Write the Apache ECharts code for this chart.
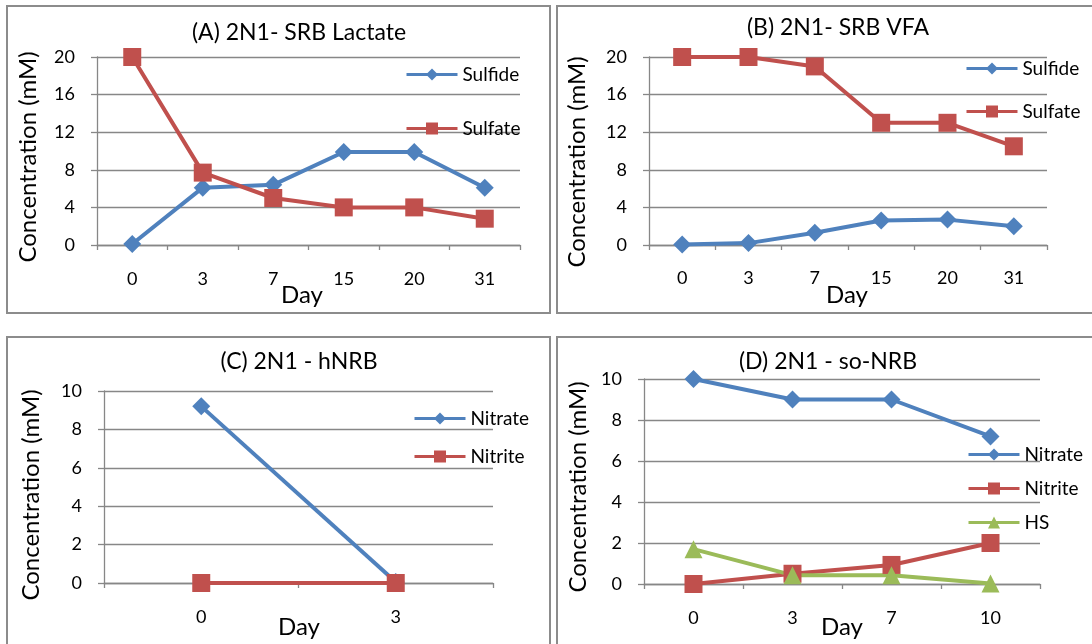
<!DOCTYPE html>
<html>
<head>
<meta charset="utf-8">
<script src="https://cdn.jsdelivr.net/npm/echarts@6/dist/echarts.min.js"></script>
<style>
  html, body { margin: 0; padding: 0; background: #fff; }
  #main { width: 1092px; height: 644px; }
</style>
</head>
<body>
<div id="main"></div>
<script>
// data
var daysA = ['0', '3', '7', '15', '20', '31'];
var sulfideA = [0.1, 6.1, 6.4, 9.9, 9.9, 6.1];
var sulfateA = [20, 7.7, 5.0, 4.0, 4.0, 2.8];

var daysB = ['0', '3', '7', '15', '20', '31'];
var sulfideB = [0.05, 0.2, 1.3, 2.6, 2.7, 2.0];
var sulfateB = [20, 20, 19, 13, 13, 10.5];

var daysC = ['0', '3'];
var nitrateC = [9.2, 0.05];
var nitriteC = [0, 0];

var daysD = ['0', '3', '7', '10'];
var nitrateD = [10, 9.0, 9.0, 7.2];
var nitriteD = [0, 0.5, 0.93, 2.0];
var hsD = [1.7, 0.43, 0.43, 0.02];

var titles = ['(A) 2N1- SRB Lactate', '(B) 2N1- SRB VFA', '(C) 2N1 - hNRB', '(D) 2N1 - so-NRB'];

var BLUE = '#4F81BD', RED = '#C0504D', GREEN = '#9BBB59';
var GRIDC = '#878787';
var FONT = 'Lato';

var myChart = echarts.init(document.getElementById('main'));

var grids = [
  {left: 97, top: 57, width: 423, height: 188},
  {left: 649, top: 57, width: 398, height: 188},
  {left: 104, top: 391, width: 389, height: 192},
  {left: 644, top: 379, width: 396, height: 205}
];

function xAx(i, cats, margin) {
  return {
    type: 'category', gridIndex: i, data: cats, boundaryGap: true,
    axisLine: {lineStyle: {color: GRIDC, width: 1.3}},
    axisTick: {show: true, length: 5, lineStyle: {color: GRIDC, width: 1.3}},
    axisLabel: {color: '#000', fontSize: 18, fontFamily: FONT, margin: margin}
  };
}
function yAx(i, max, step) {
  return {
    type: 'value', gridIndex: i, min: 0, max: max, interval: step,
    axisLine: {show: true, lineStyle: {color: GRIDC, width: 1.3}},
    axisTick: {show: true, length: 6, lineStyle: {color: GRIDC, width: 1.3}},
    splitLine: {lineStyle: {color: GRIDC, width: 1.3}},
    axisLabel: {color: '#000', fontSize: 18, fontFamily: FONT, margin: 22}
  };
}
function ser(name, data, i, color, sym) {
  return {
    name: name, type: 'line', xAxisIndex: i, yAxisIndex: i, data: data,
    symbol: sym, symbolSize: 18, showAllSymbol: true,
    lineStyle: {color: color, width: 4},
    itemStyle: {color: color},
    animation: false
  };
}
function leg(names, left, top, gap) {
  return {
    data: names, orient: 'vertical', left: left, top: top, itemGap: gap,
    padding: 0, itemWidth: 51, itemHeight: 15,
    lineStyle: {width: 3},
    textStyle: {color: '#000', fontSize: 19, fontFamily: FONT}
  };
}
function txt(s, x, y, size, rot) {
  return {
    type: 'text', x: x, y: y, rotation: rot || 0,
    style: {text: s, font: size + 'px ' + FONT, fill: '#000', align: 'center', verticalAlign: 'middle'}
  };
}
function box(x, y, w, h) {
  return {type: 'rect', shape: {x: x, y: y, width: w, height: h},
    style: {fill: 'none', stroke: '#8c8c8c', lineWidth: 2}};
}

myChart.setOption({
  backgroundColor: '#fff',
  animation: false,
  grid: grids,
  xAxis: [xAx(0, daysA, 25), xAx(1, daysB, 24), xAx(2, daysC, 25), xAx(3, daysD, 25)],
  yAxis: [yAx(0, 20, 4), yAx(1, 20, 4), yAx(2, 10, 2), yAx(3, 10, 2)],
  legend: [
    leg(['Sulfide', 'Sulfate'], 405, 65, 35),
    leg(['Sulfide', 'Sulfate'], 965, 59, 24),
    leg(['Nitrate', 'Nitrite'], 413, 409, 19),
    leg(['Nitrate', 'Nitrite', 'HS'], 967, 445, 15)
  ],
  series: [
    ser('Sulfide', sulfideA, 0, BLUE, 'diamond'),
    ser('Sulfate', sulfateA, 0, RED, 'rect'),
    ser('Sulfide', sulfideB, 1, BLUE, 'diamond'),
    ser('Sulfate', sulfateB, 1, RED, 'rect'),
    ser('Nitrate', nitrateC, 2, BLUE, 'diamond'),
    ser('Nitrite', nitriteC, 2, RED, 'rect'),
    ser('Nitrate', nitrateD, 3, BLUE, 'diamond'),
    ser('Nitrite', nitriteD, 3, RED, 'rect'),
    ser('HS', hsD, 3, GREEN, 'triangle')
  ],
  graphic: [
    box(7, 6, 543, 307), box(557, 6, 545, 307),
    box(7, 337, 543, 320), box(557, 337, 545, 320),
    txt(titles[0], 299, 33, 23), txt(titles[1], 838, 28, 23),
    txt(titles[2], 299, 362, 23), txt(titles[3], 828, 362, 23),
    txt('Concentration (mM)', 28, 157, 24, Math.PI / 2),
    txt('Concentration (mM)', 577, 162, 24, Math.PI / 2),
    txt('Concentration (mM)', 31, 495, 24, Math.PI / 2),
    txt('Concentration (mM)', 578, 487, 24, Math.PI / 2),
    txt('Day', 302, 295, 24), txt('Day', 847, 295, 24),
    txt('Day', 299, 627, 24), txt('Day', 842, 627, 24)
  ]
});
</script>
</body>
</html>
